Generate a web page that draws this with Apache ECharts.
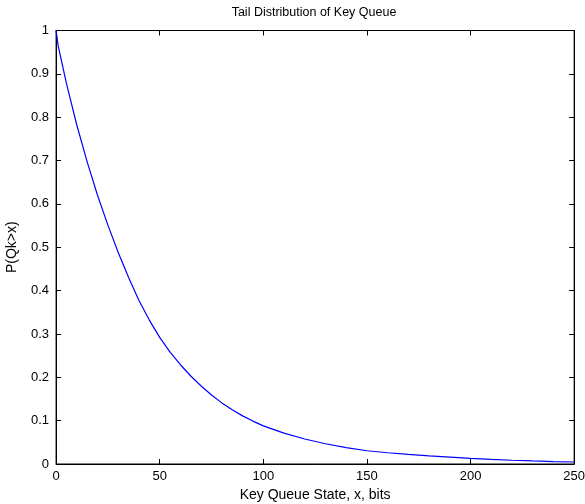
<!DOCTYPE html>
<html>
<head>
<meta charset="utf-8">
<script src="https://cdn.jsdelivr.net/npm/echarts@6/dist/echarts.min.js"></script>
<style>html,body{margin:0;padding:0;background:#fff}#c{width:585px;height:504px}</style>
</head>
<body>
<div id="c"></div>
<script>
const xValues = [0, 1, 5, 10, 15, 20, 25, 30, 35, 40, 45, 50, 55, 60, 65, 70, 75, 80, 85, 90, 95, 100, 110, 120, 130, 140, 150, 160, 170, 180, 190, 200, 210, 220, 230, 240, 250];
const pValues = [1.0, 0.965, 0.878, 0.782, 0.697, 0.620, 0.551, 0.488, 0.430, 0.377, 0.332, 0.292, 0.258, 0.229, 0.203, 0.180, 0.159, 0.141, 0.125, 0.111, 0.099, 0.088, 0.0713, 0.0577, 0.0467, 0.0378, 0.0306, 0.026, 0.022, 0.0187, 0.0158, 0.0132, 0.0107, 0.0087, 0.0071, 0.0057, 0.0046];
const titleText = 'Tail Distribution of Key Queue';
const xName = 'Key Queue State, x, bits';
const yName = 'P(Qk>x)';

const font = 'Liberation Sans, Arial, Helvetica, sans-serif';
const chart = echarts.init(document.getElementById('c'), null, {renderer: 'canvas'});
function axisCommon(onZero) {
  return {
    axisLine: {show: true, onZero: onZero, lineStyle: {color: '#000000', width: 1}},
    axisTick: {show: true, inside: true, length: 5, lineStyle: {color: '#000000', width: 1}},
    splitLine: {show: false}
  };
}
chart.setOption({
  animation: false,
  backgroundColor: '#fff',
  title: {
    text: titleText, left: 314, top: 6, padding: 0, textAlign: 'center',
    textStyle: {fontFamily: font, fontSize: 12.5, fontWeight: 'normal', color: '#000'}
  },
  grid: {left: 28, top: 24, width: 560, height: 459,
         outerBoundsMode: 'same', outerBoundsContain: 'axisLabel',
         outerBounds: {left: 0, top: 0, width: 585, height: 504},
         show: true, borderColor: '#000000', borderWidth: 1, backgroundColor: 'transparent'},
  xAxis: [
    Object.assign(axisCommon(true), {
      type: 'value', min: 0, max: 250, interval: 50, position: 'bottom',
      name: xName, nameLocation: 'middle', nameGap: 24,
      nameTextStyle: {fontFamily: font, fontSize: 14, color: '#000'},
      axisLabel: {fontFamily: font, fontSize: 13, color: '#000', margin: 6}
    }),
    Object.assign(axisCommon(false), {
      type: 'value', min: 0, max: 250, interval: 50, position: 'top',
      axisLabel: {show: false}
    })
  ],
  yAxis: [
    Object.assign(axisCommon(true), {
      type: 'value', min: 0, max: 1, interval: 0.1, position: 'left',
      name: yName, nameLocation: 'middle', nameGap: 37, nameRotate: 90,
      nameTextStyle: {fontFamily: font, fontSize: 14, color: '#000'},
      axisLabel: {fontFamily: font, fontSize: 13, color: '#000', margin: 7}
    }),
    Object.assign(axisCommon(false), {
      type: 'value', min: 0, max: 1, interval: 0.1, position: 'right',
      axisLabel: {show: false}
    })
  ],
  series: [{
    type: 'line',
    data: xValues.map((x, i) => [x, pValues[i]]),
    xAxisIndex: 0, yAxisIndex: 0,
    smooth: false,
    showSymbol: false,
    lineStyle: {color: '#0000ff', width: 1.2},
    clip: true
  }]
});
</script>
</body>
</html>
